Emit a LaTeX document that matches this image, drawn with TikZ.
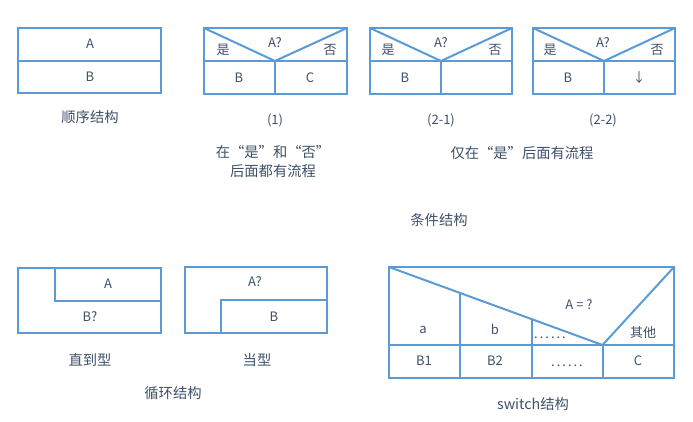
\documentclass[tikz,border=0pt]{standalone}
\usepackage{fontspec}
\setmainfont{Noto Sans CJK SC}
\newcommand{\sixdots}{.\hspace{2pt}.\hspace{2pt}.\hspace{2pt}.\hspace{2pt}.\hspace{2pt}.}
\begin{document}
\begin{tikzpicture}[x=1pt,y=-1pt,
  ln/.style={draw=lineblue,line width=2pt,line join=miter},
  tx/.style={text=txtcol,font=\fontsize{13}{15}\selectfont,inner sep=0pt},
  captxt/.style={text=txtcol,font=\fontsize{14.3}{19}\selectfont,inner sep=0pt,align=center}]
\definecolor{lineblue}{HTML}{5B9BD5}
\definecolor{txtcol}{HTML}{3F5068}
\useasboundingbox (0,0) rectangle (693,421);
% sequence
\draw[ln] (18,28) rectangle (161,93);
\draw[ln] (18,60.5) -- (161,60.5);
\node[tx] (sa) at (90,44) {A};
\node[tx] (sb) at (90,77) {B};
\node[captxt] (seq) at (90,117) {顺序结构};
% condition (1)
\draw[ln] (204,28) rectangle (347,94);
\draw[ln] (204,61) -- (347,61);
\draw[ln] (204,28) -- (275,61) -- (347,28);
\draw[ln] (275,61) -- (275,94);
\node[tx] (c1y) at (223,50) {是};
\node[tx] (c1a) at (275,43) {A?};
\node[tx] (c1n) at (330,50) {否};
\node[tx] (c1b) at (239,78) {B};
\node[tx] (c1c) at (310,78) {C};
\node[tx] (c1l) at (275,120) {(1)};
\node[captxt] (c1t) at (273,162) {在“是”和“否”\\后面都有流程};
% condition (2-1)
\draw[ln] (370,28) rectangle (512,94);
\draw[ln] (370,61) -- (512,61);
\draw[ln] (370,28) -- (441,61) -- (512,28);
\draw[ln] (441,61) -- (441,94);
\node[tx] (c2y) at (388,50) {是};
\node[tx] (c2a) at (441,43) {A?};
\node[tx] (c2n) at (495,50) {否};
\node[tx] (c2b) at (405,78) {B};
\node[tx] (c2l) at (441,120) {(2-1)};
% condition (2-2)
\draw[ln] (533,28) rectangle (675,94);
\draw[ln] (533,61) -- (675,61);
\draw[ln] (533,28) -- (604,61) -- (675,28);
\draw[ln] (604,61) -- (604,94);
\node[tx] (c3y) at (550,50) {是};
\node[tx] (c3a) at (603,43) {A?};
\node[tx] (c3n) at (657,50) {否};
\node[tx] (c3b) at (568,78) {B};
\node[tx] (c3d) at (639,78) {↓};
\node[tx] (c3l) at (603,120) {(2-2)};
\node[captxt] (c2t) at (522,153) {仅在“是”后面有流程};
\node[captxt] (cond) at (439,220) {条件结构};
% until loop
\draw[ln] (18,268) rectangle (161,333);
\draw[ln] (55,268) -- (55,300.5) -- (161,300.5);
\node[tx] (ua) at (108,284) {A};
\node[tx] (ub) at (90,317) {B?};
\node[captxt] (until) at (90,360) {直到型};
% while loop
\draw[ln] (184.5,267) rectangle (327,333);
\draw[ln] (221,333) -- (221,300) -- (327,300);
\node[tx] (wa) at (255,282) {A?};
\node[tx] (wb) at (274,317) {B};
\node[captxt] (while) at (257,360) {当型};
\node[captxt] (loop) at (173,393) {循环结构};
% switch
\draw[ln] (389,267) rectangle (674,378);
\draw[ln] (389,345) -- (674,345);
\draw[ln] (389,267) -- (602.5,345) -- (674,267);
\draw[ln] (460,292.9) -- (460,378);
\draw[ln] (531.7,319.1) -- (531.7,378);
\draw[ln] (602.5,345) -- (602.5,378);
\node[tx] (swa) at (423,330) {a};
\node[tx] (swb) at (495,329) {b};
\node[tx,anchor=base] (swd) at (550,338) {\sixdots};
\node[tx] (swq) at (579,305) {A = ?};
\node[tx] (swo) at (643,333) {其他};
\node[tx] (sw1) at (424,361) {B1};
\node[tx] (sw2) at (495,361) {B2};
\node[tx,anchor=base] (swe) at (567,366) {\sixdots};
\node[tx] (swc) at (638,361) {C};
\node[captxt] (sw) at (533,404) {switch结构};
\end{tikzpicture}
\end{document}
